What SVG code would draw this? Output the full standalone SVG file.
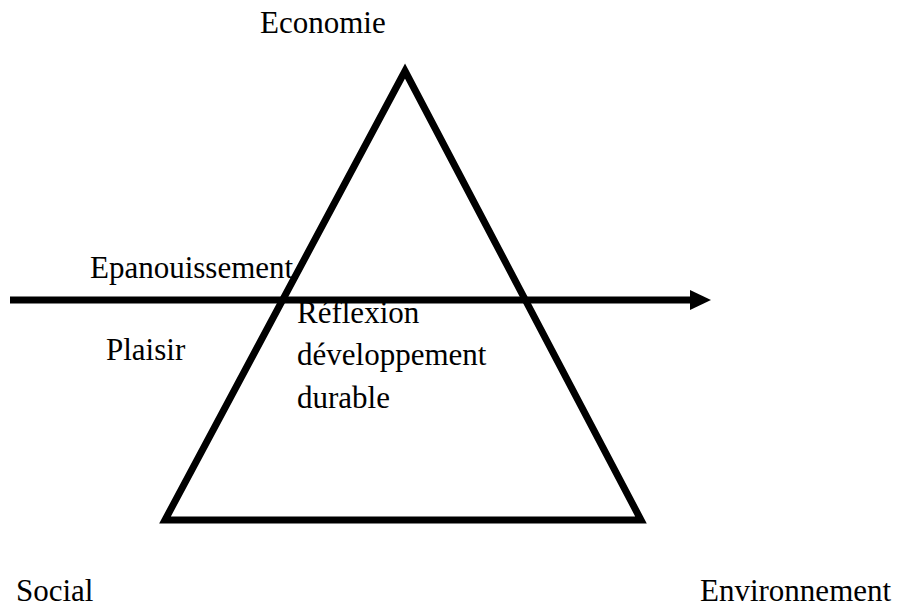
<svg xmlns="http://www.w3.org/2000/svg" width="897" height="609" viewBox="0 0 897 609">
  <style>
    .lbl { font-family: "Liberation Serif", "Times New Roman", serif; font-size: 31px; fill: #000; }
    .shape { fill: none; stroke: #000; stroke-width: 7; }
  </style>
  <defs>
    <marker id="arrowhead" markerUnits="userSpaceOnUse" markerWidth="22" markerHeight="22" refX="0" refY="11" orient="auto">
      <path d="M0,1 L21,11 L0,21 Z" fill="#000"/>
    </marker>
  </defs>
  <rect width="897" height="609" fill="#fff"/>

  <g id="triangle">
    <path class="shape" d="M405,71 L641,520 L165,520 Z" stroke-linejoin="miter"/>
  </g>

  <g id="connectors">
    <line class="shape" x1="10" y1="300" x2="690" y2="300" marker-end="url(#arrowhead)"/>
  </g>

  <g id="economie"><text class="lbl" x="260" y="33">Economie</text></g>
  <g id="epanouissement"><text class="lbl" x="90" y="278">Epanouissement</text></g>
  <g id="plaisir"><text class="lbl" x="106" y="360">Plaisir</text></g>
  <g id="reflexion">
    <text class="lbl" x="297" y="323">Réflexion</text>
    <text class="lbl" x="297" y="365">développement</text>
    <text class="lbl" x="297" y="408">durable</text>
  </g>
  <g id="social"><text class="lbl" x="16" y="601">Social</text></g>
  <g id="environnement"><text class="lbl" x="700" y="601">Environnement</text></g>
</svg>
